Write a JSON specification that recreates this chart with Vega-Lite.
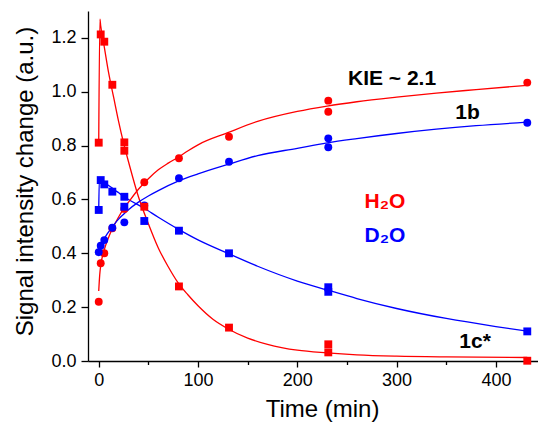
{
  "$schema": "https://vega.github.io/schema/vega-lite/v6.json",
  "autosize": {"type": "none"},
  "padding": {"left": 88, "top": 11, "right": 0, "bottom": 61},
  "width": 450,
  "height": 350,
  "background": "white",
  "config": {
    "view": {"stroke": null},
    "axis": {
      "grid": false,
      "domainColor": "black",
      "domainWidth": 1.3,
      "tickColor": "black",
      "tickWidth": 1.3,
      "labelFont": "Liberation Sans",
      "labelFontSize": 18,
      "labelColor": "black",
      "titleFont": "Liberation Sans",
      "titleFontSize": 24,
      "titleFontWeight": "normal",
      "titleColor": "black",
      "labelOverlap": false,
      "labelFlush": false
    }
  },
  "datasets": {
    "points": [
      {"t": 0, "v": 0.220, "medium": "H2O", "species": "1b"},
      {"t": 2.0, "v": 0.363, "medium": "H2O", "species": "1b"},
      {"t": 5.6, "v": 0.400, "medium": "H2O", "species": "1b"},
      {"t": 13.7, "v": 0.493, "medium": "H2O", "species": "1b"},
      {"t": 25.8, "v": 0.565, "medium": "H2O", "species": "1b"},
      {"t": 45.9, "v": 0.664, "medium": "H2O", "species": "1b"},
      {"t": 80.8, "v": 0.753, "medium": "H2O", "species": "1b"},
      {"t": 131.2, "v": 0.833, "medium": "H2O", "species": "1b"},
      {"t": 231.2, "v": 0.967, "medium": "H2O", "species": "1b"},
      {"t": 231.2, "v": 0.926, "medium": "H2O", "species": "1b"},
      {"t": 431.6, "v": 1.034, "medium": "H2O", "species": "1b"},
      {"t": 0, "v": 0.404, "medium": "D2O", "species": "1b"},
      {"t": 2.0, "v": 0.428, "medium": "D2O", "species": "1b"},
      {"t": 5.6, "v": 0.449, "medium": "D2O", "species": "1b"},
      {"t": 13.7, "v": 0.495, "medium": "D2O", "species": "1b"},
      {"t": 25.8, "v": 0.515, "medium": "D2O", "species": "1b"},
      {"t": 45.9, "v": 0.578, "medium": "D2O", "species": "1b"},
      {"t": 80.8, "v": 0.679, "medium": "D2O", "species": "1b"},
      {"t": 131.2, "v": 0.740, "medium": "D2O", "species": "1b"},
      {"t": 231.2, "v": 0.827, "medium": "D2O", "species": "1b"},
      {"t": 231.2, "v": 0.794, "medium": "D2O", "species": "1b"},
      {"t": 431.6, "v": 0.885, "medium": "D2O", "species": "1b"},
      {"t": 0, "v": 0.811, "medium": "H2O", "species": "1c"},
      {"t": 2.0, "v": 1.213, "medium": "H2O", "species": "1c"},
      {"t": 5.6, "v": 1.186, "medium": "H2O", "species": "1c"},
      {"t": 13.7, "v": 1.026, "medium": "H2O", "species": "1c"},
      {"t": 25.8, "v": 0.812, "medium": "H2O", "species": "1c"},
      {"t": 25.8, "v": 0.781, "medium": "H2O", "species": "1c"},
      {"t": 45.9, "v": 0.573, "medium": "H2O", "species": "1c"},
      {"t": 80.8, "v": 0.277, "medium": "H2O", "species": "1c"},
      {"t": 131.2, "v": 0.124, "medium": "H2O", "species": "1c"},
      {"t": 231.2, "v": 0.062, "medium": "H2O", "species": "1c"},
      {"t": 231.2, "v": 0.032, "medium": "H2O", "species": "1c"},
      {"t": 431.6, "v": 0.001, "medium": "H2O", "species": "1c"},
      {"t": 0, "v": 0.561, "medium": "D2O", "species": "1c"},
      {"t": 2.0, "v": 0.672, "medium": "D2O", "species": "1c"},
      {"t": 5.6, "v": 0.656, "medium": "D2O", "species": "1c"},
      {"t": 13.7, "v": 0.629, "medium": "D2O", "species": "1c"},
      {"t": 25.8, "v": 0.610, "medium": "D2O", "species": "1c"},
      {"t": 25.8, "v": 0.573, "medium": "D2O", "species": "1c"},
      {"t": 45.9, "v": 0.520, "medium": "D2O", "species": "1c"},
      {"t": 80.8, "v": 0.484, "medium": "D2O", "species": "1c"},
      {"t": 131.2, "v": 0.400, "medium": "D2O", "species": "1c"},
      {"t": 231.2, "v": 0.274, "medium": "D2O", "species": "1c"},
      {"t": 231.2, "v": 0.257, "medium": "D2O", "species": "1c"},
      {"t": 431.6, "v": 0.110, "medium": "D2O", "species": "1c"}
    ],
    "curves": [
      {"t": 0, "v": 0.81, "medium": "H2O", "species": "1c"},
      {"t": 1.2, "v": 1.27, "medium": "H2O", "species": "1c"},
      {"t": 2, "v": 1.245, "medium": "H2O", "species": "1c"},
      {"t": 5, "v": 1.18, "medium": "H2O", "species": "1c"},
      {"t": 10, "v": 1.07, "medium": "H2O", "species": "1c"},
      {"t": 15, "v": 0.98, "medium": "H2O", "species": "1c"},
      {"t": 20, "v": 0.89, "medium": "H2O", "species": "1c"},
      {"t": 25, "v": 0.81, "medium": "H2O", "species": "1c"},
      {"t": 30, "v": 0.74, "medium": "H2O", "species": "1c"},
      {"t": 40, "v": 0.61, "medium": "H2O", "species": "1c"},
      {"t": 50, "v": 0.51, "medium": "H2O", "species": "1c"},
      {"t": 60, "v": 0.42, "medium": "H2O", "species": "1c"},
      {"t": 70, "v": 0.35, "medium": "H2O", "species": "1c"},
      {"t": 80, "v": 0.29, "medium": "H2O", "species": "1c"},
      {"t": 90, "v": 0.245, "medium": "H2O", "species": "1c"},
      {"t": 100, "v": 0.205, "medium": "H2O", "species": "1c"},
      {"t": 115, "v": 0.155, "medium": "H2O", "species": "1c"},
      {"t": 130, "v": 0.12, "medium": "H2O", "species": "1c"},
      {"t": 150, "v": 0.085, "medium": "H2O", "species": "1c"},
      {"t": 170, "v": 0.062, "medium": "H2O", "species": "1c"},
      {"t": 200, "v": 0.04, "medium": "H2O", "species": "1c"},
      {"t": 230, "v": 0.03, "medium": "H2O", "species": "1c"},
      {"t": 260, "v": 0.023, "medium": "H2O", "species": "1c"},
      {"t": 300, "v": 0.018, "medium": "H2O", "species": "1c"},
      {"t": 350, "v": 0.015, "medium": "H2O", "species": "1c"},
      {"t": 431.6, "v": 0.013, "medium": "H2O", "species": "1c"},
      {"t": 0, "v": 0.561, "medium": "D2O", "species": "1c"},
      {"t": 0.7, "v": 0.68, "medium": "D2O", "species": "1c"},
      {"t": 2, "v": 0.676, "medium": "D2O", "species": "1c"},
      {"t": 5, "v": 0.665, "medium": "D2O", "species": "1c"},
      {"t": 10, "v": 0.652, "medium": "D2O", "species": "1c"},
      {"t": 15, "v": 0.638, "medium": "D2O", "species": "1c"},
      {"t": 20, "v": 0.625, "medium": "D2O", "species": "1c"},
      {"t": 30, "v": 0.60, "medium": "D2O", "species": "1c"},
      {"t": 45, "v": 0.569, "medium": "D2O", "species": "1c"},
      {"t": 60, "v": 0.534, "medium": "D2O", "species": "1c"},
      {"t": 80, "v": 0.49, "medium": "D2O", "species": "1c"},
      {"t": 100, "v": 0.45, "medium": "D2O", "species": "1c"},
      {"t": 130, "v": 0.40, "medium": "D2O", "species": "1c"},
      {"t": 160, "v": 0.352, "medium": "D2O", "species": "1c"},
      {"t": 200, "v": 0.297, "medium": "D2O", "species": "1c"},
      {"t": 230, "v": 0.264, "medium": "D2O", "species": "1c"},
      {"t": 260, "v": 0.232, "medium": "D2O", "species": "1c"},
      {"t": 300, "v": 0.195, "medium": "D2O", "species": "1c"},
      {"t": 350, "v": 0.158, "medium": "D2O", "species": "1c"},
      {"t": 400, "v": 0.128, "medium": "D2O", "species": "1c"},
      {"t": 431.6, "v": 0.111, "medium": "D2O", "species": "1c"},
      {"t": 0, "v": 0.26, "medium": "H2O", "species": "1b"},
      {"t": 1, "v": 0.32, "medium": "H2O", "species": "1b"},
      {"t": 2, "v": 0.355, "medium": "H2O", "species": "1b"},
      {"t": 5, "v": 0.405, "medium": "H2O", "species": "1b"},
      {"t": 10, "v": 0.46, "medium": "H2O", "species": "1b"},
      {"t": 15, "v": 0.50, "medium": "H2O", "species": "1b"},
      {"t": 20, "v": 0.535, "medium": "H2O", "species": "1b"},
      {"t": 25, "v": 0.565, "medium": "H2O", "species": "1b"},
      {"t": 30, "v": 0.59, "medium": "H2O", "species": "1b"},
      {"t": 40, "v": 0.638, "medium": "H2O", "species": "1b"},
      {"t": 50, "v": 0.677, "medium": "H2O", "species": "1b"},
      {"t": 60, "v": 0.71, "medium": "H2O", "species": "1b"},
      {"t": 70, "v": 0.735, "medium": "H2O", "species": "1b"},
      {"t": 80, "v": 0.757, "medium": "H2O", "species": "1b"},
      {"t": 90, "v": 0.781, "medium": "H2O", "species": "1b"},
      {"t": 100, "v": 0.803, "medium": "H2O", "species": "1b"},
      {"t": 130, "v": 0.848, "medium": "H2O", "species": "1b"},
      {"t": 160, "v": 0.89, "medium": "H2O", "species": "1b"},
      {"t": 200, "v": 0.927, "medium": "H2O", "species": "1b"},
      {"t": 230, "v": 0.947, "medium": "H2O", "species": "1b"},
      {"t": 260, "v": 0.963, "medium": "H2O", "species": "1b"},
      {"t": 300, "v": 0.98, "medium": "H2O", "species": "1b"},
      {"t": 340, "v": 0.995, "medium": "H2O", "species": "1b"},
      {"t": 380, "v": 1.008, "medium": "H2O", "species": "1b"},
      {"t": 431.6, "v": 1.024, "medium": "H2O", "species": "1b"},
      {"t": 0, "v": 0.40, "medium": "D2O", "species": "1b"},
      {"t": 2, "v": 0.425, "medium": "D2O", "species": "1b"},
      {"t": 5, "v": 0.45, "medium": "D2O", "species": "1b"},
      {"t": 10, "v": 0.48, "medium": "D2O", "species": "1b"},
      {"t": 15, "v": 0.505, "medium": "D2O", "species": "1b"},
      {"t": 20, "v": 0.527, "medium": "D2O", "species": "1b"},
      {"t": 25, "v": 0.545, "medium": "D2O", "species": "1b"},
      {"t": 30, "v": 0.562, "medium": "D2O", "species": "1b"},
      {"t": 40, "v": 0.59, "medium": "D2O", "species": "1b"},
      {"t": 50, "v": 0.613, "medium": "D2O", "species": "1b"},
      {"t": 60, "v": 0.633, "medium": "D2O", "species": "1b"},
      {"t": 80, "v": 0.668, "medium": "D2O", "species": "1b"},
      {"t": 100, "v": 0.695, "medium": "D2O", "species": "1b"},
      {"t": 130, "v": 0.73, "medium": "D2O", "species": "1b"},
      {"t": 160, "v": 0.763, "medium": "D2O", "species": "1b"},
      {"t": 200, "v": 0.79, "medium": "D2O", "species": "1b"},
      {"t": 230, "v": 0.81, "medium": "D2O", "species": "1b"},
      {"t": 260, "v": 0.826, "medium": "D2O", "species": "1b"},
      {"t": 300, "v": 0.845, "medium": "D2O", "species": "1b"},
      {"t": 340, "v": 0.861, "medium": "D2O", "species": "1b"},
      {"t": 380, "v": 0.874, "medium": "D2O", "species": "1b"},
      {"t": 431.6, "v": 0.887, "medium": "D2O", "species": "1b"}
    ],
    "blackLabels": [
      {"t": 295.4, "v": 1.025, "text": "KIE ~ 2.1"},
      {"t": 371.4, "v": 0.899, "text": "1b"},
      {"t": 379.0, "v": 0.048, "text": "1c*"}
    ],
    "mediumLabels": [
      {"t": 288.3, "v": 0.568, "text": "H₂O", "medium": "H2O"},
      {"t": 288.3, "v": 0.442, "text": "D₂O", "medium": "D2O"}
    ]
  },
  "layer": [
    {
      "data": {"name": "curves"},
      "mark": {"type": "line", "strokeWidth": 1.3, "interpolate": "monotone"},
      "encoding": {
        "x": {
          "field": "t", "type": "quantitative",
          "scale": {"domain": [-10.8, 442.4], "nice": false, "zero": false},
          "axis": {
            "title": "Time (min)",
            "values": [0, 50, 100, 150, 200, 250, 300, 350, 400],
            "labelExpr": "datum.value % 100 === 0 ? format(datum.value, 'd') : ''",
            "tickSize": {"condition": {"test": "datum.value % 100 === 0", "value": 6}, "value": 3.5},
            "labelPadding": 4,
            "titleX": 234,
            "titleY": 36,
            "titleBaseline": "top"
          }
        },
        "y": {
          "field": "v", "type": "quantitative",
          "scale": {"domain": [0, 1.3], "nice": false, "zero": false},
          "axis": {
            "title": "Signal intensity change (a.u.)",
            "values": [0, 0.1, 0.2, 0.3, 0.4, 0.5, 0.6, 0.7, 0.8, 0.9, 1.0, 1.1, 1.2, 1.3],
            "labelExpr": "round(datum.value * 10) % 2 === 0 ? format(datum.value, '.1f') : ''",
            "tickSize": {"condition": {"test": "round(datum.value * 10) % 2 === 0", "value": 7}, "value": 3},
            "labelPadding": 5,
            "titleAngle": 270,
            "titleX": -51,
            "titleY": 170,
            "titleBaseline": "bottom"
          }
        },
        "color": {
          "field": "medium", "type": "nominal",
          "scale": {"domain": ["H2O", "D2O"], "range": ["#ff0000", "#0000ff"]},
          "legend": null
        },
        "detail": {"field": "species"},
        "order": {"field": "t", "type": "quantitative"}
      }
    },
    {
      "data": {"name": "points"},
      "mark": {"type": "point", "filled": true, "opacity": 1, "size": 62, "strokeWidth": 0},
      "encoding": {
        "x": {"field": "t", "type": "quantitative"},
        "y": {"field": "v", "type": "quantitative"},
        "color": {"field": "medium", "type": "nominal"},
        "shape": {
          "field": "species", "type": "nominal",
          "scale": {"domain": ["1b", "1c"], "range": ["circle", "square"]},
          "legend": null
        }
      }
    },
    {
      "data": {"name": "blackLabels"},
      "mark": {"type": "text", "font": "Liberation Sans", "fontWeight": "bold", "fontSize": 21, "color": "black", "align": "center", "baseline": "alphabetic"},
      "encoding": {
        "x": {"field": "t", "type": "quantitative"},
        "y": {"field": "v", "type": "quantitative"},
        "text": {"field": "text"}
      }
    },
    {
      "data": {"name": "mediumLabels"},
      "mark": {"type": "text", "font": "Liberation Sans", "fontWeight": "bold", "fontSize": 21, "align": "center", "baseline": "alphabetic"},
      "encoding": {
        "x": {"field": "t", "type": "quantitative"},
        "y": {"field": "v", "type": "quantitative"},
        "text": {"field": "text"},
        "color": {"field": "medium", "type": "nominal"}
      }
    }
  ]
}
